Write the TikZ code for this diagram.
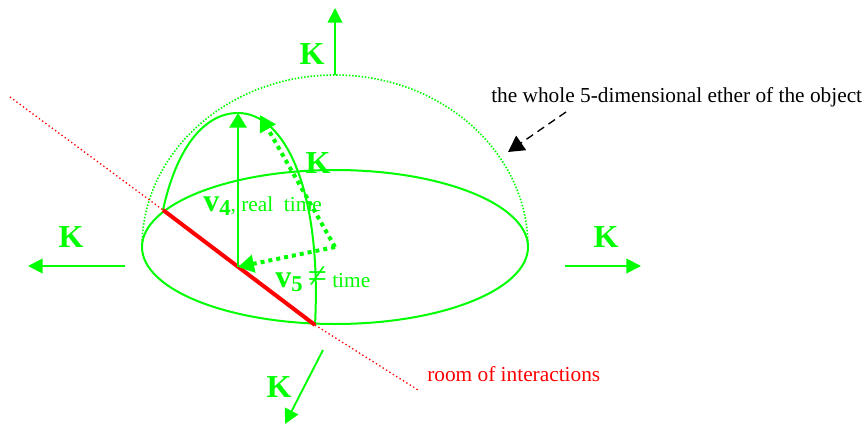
\documentclass[tikz,border=0pt]{standalone}
\usepackage{fontspec}
\setmainfont{Liberation Serif}
\usetikzlibrary{arrows.meta, calc, positioning}
\definecolor{verdeLinea}{HTML}{00FF00}
\definecolor{rojoLinea}{HTML}{FF0000}
\newcommand{\subV}[1]{\raisebox{-3pt}{\fontsize{17}{17}\selectfont\bfseries #1}}
\begin{document}
\begin{tikzpicture}[
  x=0.75pt, y=-0.75pt,
  % Estilos de textos
  etiqK/.style={
    font=\fontsize{24}{24}\selectfont\bfseries, text=verdeLinea, inner sep=0pt
  },
  etiqV/.style={
    font=\fontsize{16}{16}\selectfont, text=verdeLinea, inner sep=0pt, anchor=base west
  },
  etiqNota/.style={
    font=\fontsize{16}{16}\selectfont, inner sep=0pt, anchor=base west
  },
  % Estilos de flechas
  flechaK/.style={
    -{Triangle[length=11pt, width=11pt]}, line width=1.4pt, draw=verdeLinea
  },
  flechaV/.style={
    -{Triangle[length=11pt, width=13pt]}, line width=1.4pt, draw=verdeLinea
  },
  flechaPunt/.style={
    -{Triangle[length=12pt, width=13pt]}, line width=3pt, draw=verdeLinea,
    dash pattern=on 3pt off 3pt
  },
  curva/.style={
    line width=1.5pt, draw=verdeLinea
  }
]
\useasboundingbox (0,0) rectangle (866,424);

% --- Puntos ---
\coordinate (centro) at (335,247);
\coordinate (izq) at (163,210);
\coordinate (der) at (315,325);
\coordinate (medio) at (238,267);
\coordinate (cima) at (238,113);
\coordinate (cimaB) at (260,115);
\coordinate (rojoA) at (10,97);
\coordinate (rojoB) at (418,390);
\coordinate (domoTop) at (335,75);

% --- Semiesfera ---
\draw[curva] (centro) ellipse [x radius=193, y radius=77];
\draw[draw=verdeLinea, line width=1.2pt, dash pattern=on 1.1pt off 1.3pt]
  (142,247) arc [start angle=180, end angle=360, x radius=193, y radius=172];
\draw[curva] (izq) .. controls (176,150) and (203,113) .. (cima)
  .. controls (285,113) and (322,190) .. (der);

% --- Sala de interacciones ---
\draw[draw=rojoLinea, line width=1pt, dash pattern=on 1pt off 2pt] (rojoA) -- (izq);
\draw[draw=rojoLinea, line width=1pt, dash pattern=on 1pt off 2pt] (der) -- (rojoB);
\draw[draw=rojoLinea, line width=3pt] (izq) -- (der);

% --- Velocidades ---
\draw[flechaV] (medio) -- (cima);
\draw[flechaPunt] (centro) -- (cimaB);
\draw[flechaPunt] (centro) -- (medio);

% --- Etiquetas K ---
\node[etiqK] (kArriba) at (312,54) {K};
\node[etiqK] (kCentro) at (318,163) {K};
\node[etiqK] (kIzq) at (71,237) {K};
\node[etiqK] (kDer) at (606,237) {K};
\node[etiqK] (kAbajo) at (279,387) {K};

% --- Flechas K ---
\draw[flechaK] (domoTop) -- (335,8);
\draw[flechaK] (125,266) -- (28,266);
\draw[flechaK] (565,266) -- (641,266);
\draw[flechaK] (323,350) -- (285,424);

% --- Textos ---
\node[etiqV] (v4) at (203,211) {{\fontsize{24}{24}\selectfont\bfseries v}\subV{4}, real\ \ time};
\node[etiqV] (v5) at (275,287) {{\fontsize{24}{24}\selectfont\bfseries v}\subV{5} {\fontsize{26}{26}\selectfont ≠} time};
\node[etiqNota] (eter) at (491,103) {the whole 5-dimensional ether of the object};
\node[etiqNota, text=rojoLinea] (sala) at (427,381) {room of interactions};

% --- Flecha de la nota ---
\coordinate (notaA) at (566,112);
\coordinate (notaB) at (508,152);
\draw[-{Triangle[length=12pt, width=13pt]}, line width=1pt, dash pattern=on 6pt off 4pt] (notaA) -- (notaB);

\end{tikzpicture}
\end{document}
